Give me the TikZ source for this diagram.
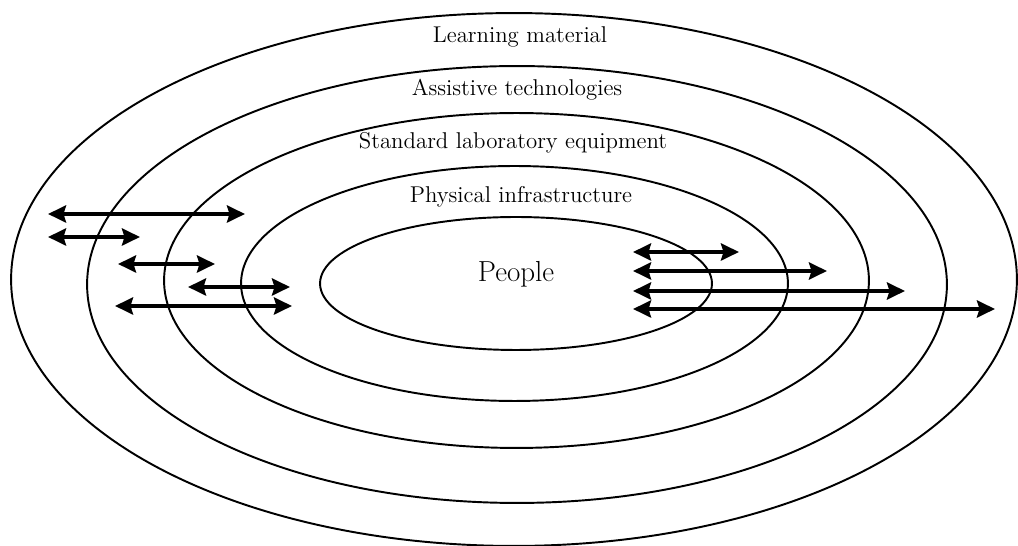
\documentclass[tikz,border=0pt]{standalone}
\usepackage{amsmath}
\usepackage{xcolor}
\usepackage{tikz}
\usetikzlibrary{arrows.meta,positioning}
\tikzset{>={Stealth[length=0.36cm,width=0.34cm,inset=0.05cm]}}

\begin{document}
\begin{tikzpicture}[x=0.02cm, y=-0.02cm,
                          ring/.style={line width=1.1pt, black},
                          link/.style={line width=2.5pt, black, <->},
                          layer/.style={font=\fontsize{13}{15}\selectfont, anchor=base},
                          core/.style={font=\fontsize{16.5}{19}\selectfont, anchor=base},
                         ]

\useasboundingbox (0,0) rectangle (1018,546);

% the five rings, outermost first
\draw[ring] (514,279.5) ellipse [x radius=10.06cm, y radius=5.33cm];
\draw[ring] (517,284.5) ellipse [x radius=8.6cm, y radius=4.37cm];
\draw[ring] (516.5,280.5) ellipse [x radius=7.05cm, y radius=3.35cm];
\draw[ring] (514.5,283.5) ellipse [x radius=5.47cm, y radius=2.35cm];
\draw[ring] (516,283.5) ellipse [x radius=3.92cm, y radius=1.33cm];

\node[layer] (learning) at (520,43) {Learning material};
\node[layer] (assistive) at (517,96) {Assistive technologies};
\node[layer] (standard) at (513,149) {Standard laboratory equipment};
\node[layer] (physical) at (521,203) {Physical infrastructure};
\node[core] (people) at (516,282) {People};

% arrows on the left
\coordinate (l1a) at (48,214);  \coordinate (l1b) at (245,214);
\coordinate (l2a) at (48,237);  \coordinate (l2b) at (140,237);
\coordinate (l3a) at (118,264); \coordinate (l3b) at (215,264);
\coordinate (l4a) at (188,287); \coordinate (l4b) at (290,287);
\coordinate (l5a) at (115,306); \coordinate (l5b) at (292,306);

\draw[link] (l1a) -- (l1b);
\draw[link] (l2a) -- (l2b);
\draw[link] (l3a) -- (l3b);
\draw[link] (l4a) -- (l4b);
\draw[link] (l5a) -- (l5b);

% arrows on the right
\coordinate (r1a) at (633,252); \coordinate (r1b) at (739,252);
\coordinate (r2a) at (633,271); \coordinate (r2b) at (827,271);
\coordinate (r3a) at (633,291); \coordinate (r3b) at (905,291);
\coordinate (r4a) at (633,309); \coordinate (r4b) at (995,309);

\draw[link] (r1a) -- (r1b);
\draw[link] (r2a) -- (r2b);
\draw[link] (r3a) -- (r3b);
\draw[link] (r4a) -- (r4b);

\end{tikzpicture}
\end{document}
